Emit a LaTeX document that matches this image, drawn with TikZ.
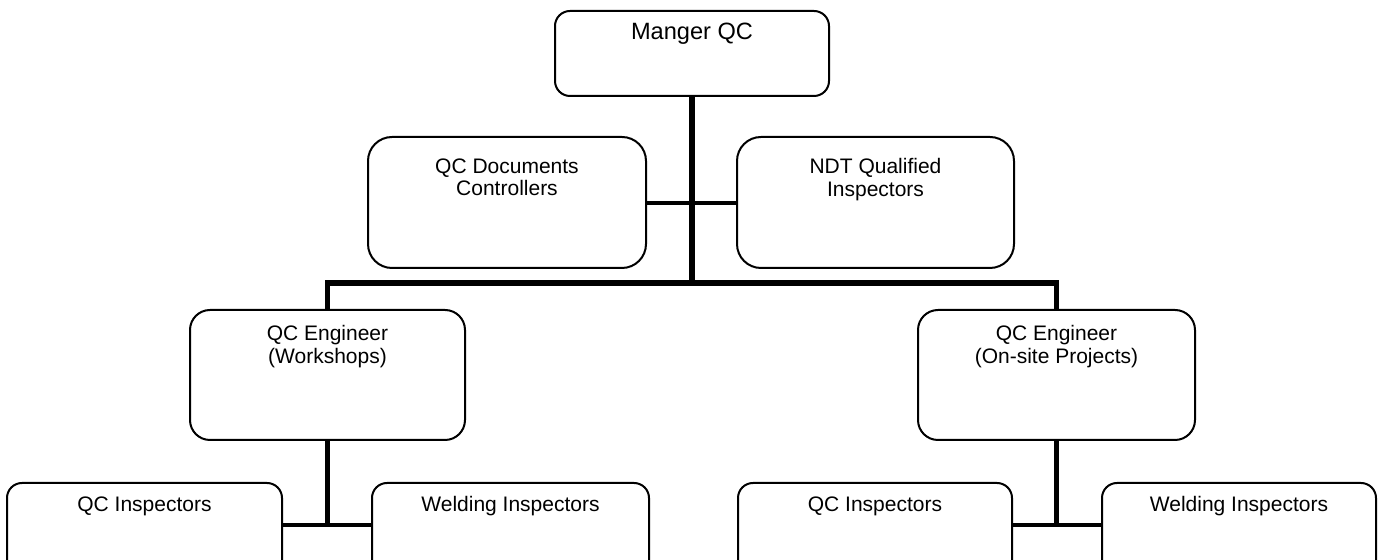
\documentclass[tikz,border=0pt]{standalone}
\usepackage{fontspec}
\setmainfont{Liberation Sans}
\begin{document}
\begin{tikzpicture}[x=0.5pt,y=-0.5pt,
  box/.style={draw=black, line width=1pt, fill=white, rectangle, inner sep=0pt},
  boxtxt/.style={anchor=north, yshift=-7pt, align=center, inner sep=0pt,
     font=\fontsize{10.5}{11.2}\selectfont},
  conn/.style={draw=black, line width=2.6pt},
  side/.style={draw=black, line width=2.1pt}]
\useasboundingbox (0,0) rectangle (1378,560);
\clip (0,0) rectangle (1378,560);
% boxes
\node[box, rounded corners=7.5pt, minimum width=137pt, minimum height=42.5pt,
  label={[boxtxt, yshift=0.5pt, font=\fontsize{11.8}{13}\selectfont]north:Manger QC}] (mgr) at (692,53.5) {};
\node[box, rounded corners=12pt, minimum width=139pt, minimum height=65.5pt,
  label={[boxtxt, yshift=-4pt]north:QC Documents\\Controllers}] (docs) at (507,202.5) {};
\node[box, rounded corners=12pt, minimum width=138.5pt, minimum height=65.5pt,
  label={[boxtxt, yshift=-4pt]north:NDT Qualified\\Inspectors}] (ndt) at (875.5,202.5) {};
\node[box, rounded corners=10pt, minimum width=137.5pt, minimum height=65pt,
  label={[boxtxt, yshift=-1pt]north:QC Engineer\\(Workshops)}] (engL) at (327.5,375) {};
\node[box, rounded corners=10pt, minimum width=138.5pt, minimum height=65pt,
  label={[boxtxt, yshift=-1pt]north:QC Engineer\\(On-site Projects)}] (engR) at (1056.5,375) {};
\node[box, rounded corners=7.5pt, minimum width=137.5pt, minimum height=65pt,
  label={[boxtxt]north:QC Inspectors}] (qiL) at (144.5,548) {};
\node[box, rounded corners=7.5pt, minimum width=138.5pt, minimum height=65pt,
  label={[boxtxt]north:Welding Inspectors}] (wiL) at (510.5,548) {};
\node[box, rounded corners=7.5pt, minimum width=137pt, minimum height=65pt,
  label={[boxtxt]north:QC Inspectors}] (qiR) at (875,548) {};
\node[box, rounded corners=7.5pt, minimum width=137pt, minimum height=65pt,
  label={[boxtxt]north:Welding Inspectors}] (wiR) at (1239,548) {};
% junctions
\coordinate (jm) at (692,203);
\coordinate (jb) at (692,283);
\coordinate (jL) at (327.5,525);
\coordinate (jR) at (1056.5,525);
% connectors
\draw[conn] (mgr.south) -- (jb);
\draw[side] (docs.east |- jm) -- (ndt.west |- jm);
\draw[conn, line join=miter] (engL.north) |- (jb) -| (engR.north);
\draw[conn] (engL.south) -- (jL);
\draw[conn] (engR.south) -- (jR);
\draw[side] (qiL.east |- jL) -- (wiL.west |- jL);
\draw[side] (qiR.east |- jR) -- (wiR.west |- jR);
\end{tikzpicture}
\end{document}
